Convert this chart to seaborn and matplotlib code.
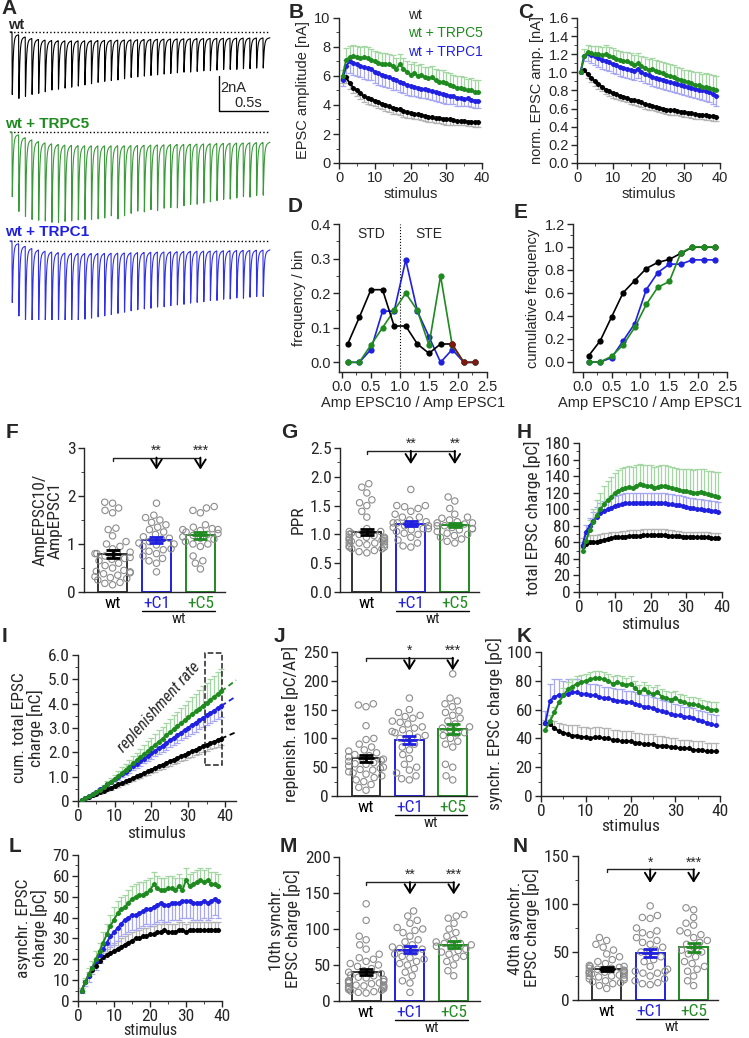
import numpy as np
import pandas as pd
import matplotlib
matplotlib.use('Agg')
import matplotlib.pyplot as plt
import seaborn as sns
from matplotlib import font_manager as fm
from matplotlib.ticker import AutoMinorLocator
from matplotlib.patches import Rectangle
import matplotlib.transforms as mtransforms

# ---------------- data ----------------
stim = np.arange(1, 40)

# B: EPSC amplitude [nA]
b_wt = [5.8,5.9,5.5,5.2,5.0,4.8,4.6,4.5,4.4,4.3, 4.2,4.1,4.0,3.9,3.8,3.75,3.7,3.6,3.5,3.45,
        3.4,3.35,3.3,3.25,3.2,3.15,3.1,3.1,3.05,3.0, 3.0,2.95,2.9,2.9,2.9,2.85,2.85,2.8,2.8]
b_wt_err = [0.3,0.35,0.4,0.4,0.4,0.4,0.4,0.4,0.4,0.4, 0.4,0.4,0.4,0.4,0.4,0.4,0.4,0.4,0.4,0.35,
            0.35,0.35,0.35,0.35,0.35,0.35,0.35,0.35,0.35,0.35, 0.35,0.3,0.3,0.3,0.3,0.3,0.3,0.3,0.3]
b_c5 = [6.0,7.1,7.3,7.4,7.3,7.25,7.3,7.25,7.1,7.0, 6.9,6.85,6.85,6.8,6.7,6.5,6.8,6.5,6.3,6.1,
        6.2,6.0,6.1,5.9,5.85,5.9,5.7,5.6,5.6,5.5, 5.4,5.3,5.2,5.2,5.1,5.0,5.05,4.9,4.9]
b_c5_err = [0.4,0.8,0.8,0.75,0.75,0.75,0.75,0.75,0.75,0.75, 0.75,0.75,0.75,0.75,0.75,0.75,0.75,0.75,0.75,0.75,
            0.75,0.75,0.75,0.75,0.75,0.8,0.8,0.8,0.8,0.8, 0.8,0.8,0.8,0.8,0.8,0.8,0.8,0.8,0.8]
b_c1 = [5.7,6.7,7.0,6.9,6.8,6.7,6.6,6.55,6.5,6.3, 6.2,6.1,6.0,5.9,5.8,5.7,5.6,5.5,5.4,5.3,
        5.25,5.2,5.1,5.1,5.0,4.95,4.9,4.8,4.75,4.7, 4.6,4.6,4.5,4.5,4.4,4.45,4.35,4.3,4.3]
b_c1_err = [0.4,0.7,0.8,0.8,0.8,0.8,0.8,0.8,0.8,0.8, 0.8,0.8,0.75,0.75,0.75,0.7,0.7,0.7,0.7,0.7,
            0.65,0.65,0.65,0.65,0.6,0.6,0.6,0.6,0.6,0.6, 0.55,0.55,0.55,0.55,0.5,0.5,0.5,0.5,0.5]

# C: normalized EPSC amplitude
c_wt = [1.0,1.03,0.98,0.94,0.90,0.87,0.84,0.81,0.79,0.77, 0.76,0.74,0.73,0.72,0.70,0.69,0.68,0.67,0.65,0.64,
        0.63,0.62,0.61,0.60,0.59,0.585,0.58,0.575,0.565,0.56, 0.555,0.55,0.54,0.535,0.53,0.525,0.52,0.515,0.51]
c_wt_err = [0.0,0.03,0.04,0.05,0.05,0.05,0.05,0.05,0.05,0.05, 0.05,0.05,0.05,0.05,0.05,0.05,0.05,0.05,0.05,0.05,
            0.05,0.05,0.05,0.05,0.05,0.05,0.05,0.05,0.05,0.05, 0.05,0.05,0.05,0.05,0.05,0.05,0.05,0.05,0.05]
c_c5 = [1.0,1.18,1.22,1.21,1.2,1.2,1.19,1.2,1.18,1.17, 1.15,1.14,1.13,1.12,1.1,1.08,1.1,1.07,1.05,1.03,
        1.04,1.02,1.0,0.99,0.97,0.96,0.95,0.93,0.92,0.9, 0.89,0.88,0.86,0.86,0.84,0.84,0.83,0.82,0.81]
c_c5_err = [0.0,0.08,0.08,0.08,0.09,0.09,0.09,0.1,0.1,0.1, 0.1,0.1,0.1,0.11,0.11,0.11,0.11,0.11,0.12,0.12,
            0.12,0.12,0.12,0.12,0.13,0.13,0.13,0.13,0.13,0.13, 0.14,0.14,0.14,0.14,0.14,0.15,0.15,0.15,0.15]
c_c1 = [1.0,1.18,1.21,1.19,1.18,1.16,1.14,1.13,1.11,1.09, 1.08,1.06,1.05,1.04,1.03,1.02,1.04,1.0,0.98,0.97,
        0.95,0.94,0.93,0.92,0.9,0.89,0.88,0.87,0.86,0.85, 0.84,0.83,0.82,0.81,0.8,0.79,0.78,0.76,0.74]
c_c1_err = [0.0,0.06,0.08,0.09,0.1,0.1,0.1,0.1,0.1,0.1, 0.1,0.1,0.1,0.1,0.1,0.1,0.1,0.1,0.1,0.1,
            0.1,0.1,0.1,0.1,0.1,0.1,0.1,0.1,0.1,0.1, 0.1,0.1,0.1,0.1,0.1,0.11,0.11,0.11,0.11]

# D/E: histogram of Amp EPSC10 / Amp EPSC1
bins = [0.1,0.3,0.5,0.7,0.9,1.1,1.3,1.5,1.7,1.9,2.1,2.3]
d_wt = [0.053,0.13,0.21,0.21,0.105,0.105,0.053,0.026,0.053,0.053,0.0,0.0]
d_c5 = [0.0,0.0,0.05,0.10,0.15,0.20,0.15,0.05,0.25,0.05,0.0,0.0]
d_c1 = [0.0,0.0,0.037,0.148,0.148,0.296,0.148,0.074,0.0,0.037,0.0,0.0]

# H: total EPSC charge [pC]
h_c5 = [50,62,75,85,93,100,106,111,115,119, 122,125,126,127,126,128,130,129,128,128,
        126,127,128,128,127,126,124,123,122,122, 121,120,120,121,120,118,117,116,115]
h_c5_err = [3,8,12,15,18,20,22,23,24,25, 25,25,25,25,25,25,25,25,25,25,
            25,25,25,25,25,25,26,26,27,27, 27,27,28,28,28,28,29,29,30]
h_c1 = [57,73,80,86,91,95,98,100,102,104, 105,106,107,107,107,108,108,108,108,108,
        108,107,107,107,106,106,105,105,104,103, 102,101,100,100,99,99,98,98,97]
h_c1_err = [3,8,10,11,12,12,12,12,12,12, 12,12,12,12,12,12,12,12,12,12,
            12,12,12,12,12,12,12,12,12,12, 12,12,12,12,12,12,12,12,12]
h_wt = [55,58,60,60,61,62,63,64,65,66, 66,67,67,68,68,68,68,69,69,69,
        69,69,69,69,68,68,68,68,67,67, 67,67,66,66,66,66,65,65,65]
h_wt_err = [10,10,9,9,8,8,8,7,7,7, 7,7,7,7,7,7,7,7,7,7,
            7,7,7,7,7,7,6,6,6,6, 6,6,6,6,6,6,6,6,6]

# K: synchronous EPSC charge [pC]
k_c5 = [46,52,58,65,70,74,76,78,79,80, 81,82,82,81,80,78,79,78,77,78,
        75,72,74,72,71,72,69,68,67,68, 66,65,64,64,63,62,61,60,60]
k_c5_err = [3,4,4,5,5,5,5,5,5,5, 5,5,5,5,5,5,5,5,5,5,
            5,5,5,5,5,5,5,5,5,5, 5,5,5,5,5,5,5,5,5]
k_c1 = [51,66,69,70,70,71,72,72,71,71, 70,70,69,68,68,67,66,66,65,65,
        64,63,62,62,61,60,59,58,57,56, 56,55,55,54,53,52,51,50,49]
k_c1_err = [8,12,12,11,10,10,9,9,9,9, 8,8,8,8,8,8,8,8,8,8,
            8,8,8,8,8,8,8,8,8,8, 7,7,7,7,7,7,7,7,7]
k_wt = [51,50,47,45,44,43,42,42,41,41, 40,41,41,40,40,39,39,38,38,38,
        37,37,36,36,36,35,35,35,34,34, 33,33,33,32,32,32,31,31,31]
k_wt_err = [2,3,5,6,6,6,7,7,7,7, 7,7,7,7,7,7,7,7,7,7,
            7,7,7,7,7,7,7,6,6,6, 6,6,6,6,6,6,6,6,6]

# L: asynchronous EPSC charge [pC]
l_c5 = [5,9,13,16,20,24,28,32,36,39, 42,44,45,47,49,50,51,51,52,53,
        56,54,53,53,54,54,53,55,53,58, 55,56,57,58,57,58,56,56,55]
l_c5_err = [1,2,3,3,4,4,5,5,5,6, 6,6,6,6,6,6,6,6,6,6,
            6,6,6,6,6,6,6,6,6,6, 6,6,6,6,6,6,6,6,6]
l_c1 = [5,9,12,16,19,22,25,28,31,33, 35,37,39,40,41,41,42,43,44,44,
        45,46,47,46,46,47,47,47,48,48, 48,47,47,47,48,47,48,49,48]
l_c1_err = [1,2,3,3,4,4,5,5,5,6, 6,6,7,7,7,7,7,7,7,8,
            8,8,8,8,8,8,8,8,8,8, 8,8,8,8,8,8,8,8,8]
l_wt = [5,9,12,15,17,19,21,22,23,24, 25,26,27,28,29,30,30,31,31,32,
        32,33,33,34,33,33,33,34,34,33, 34,34,34,34,34,34,34,34,34]
l_wt_err = [1,1,2,2,3,3,3,3,4,4, 4,4,4,4,4,4,4,4,4,4,
            4,4,4,4,4,4,4,4,4,4, 4,4,4,4,4,4,4,4,4]

# bar panels: single cells
f_wt = [1.87,1.85,1.75,1.7,1.65,1.33,1.3,1.17,1.05,1.0,0.95,0.9,0.83,0.8,0.8,0.78,0.75,0.72,0.7,
        0.68,0.65,0.6,0.55,0.5,0.45,0.43,0.42,0.4,0.38,0.35,0.32,0.3,0.28,0.25,0.2,0.18,0.15]
f_c1 = [1.85,1.6,1.55,1.5,1.45,1.4,1.35,1.3,1.25,1.2,1.15,1.12,1.1,1.05,1.02,1.0,0.98,0.95,0.9,
        0.88,0.85,0.8,0.75,0.7,0.65,0.6,0.42]
f_c5 = [1.78,1.75,1.7,1.65,1.4,1.35,1.3,1.28,1.25,1.22,1.2,1.18,1.15,1.12,1.1,1.05,1.0,0.95,1.0,
        0.75,0.65,0.6,0.48,1.3,1.32]

g_wt = [1.88,1.82,1.72,1.6,1.55,1.5,1.4,1.3,0.75,1.1,1.05,1.02,1.0,1.0,0.98,0.95,0.95,0.92,0.9,
        0.9,0.88,0.85,0.85,0.82,0.8,0.78,0.75,0.72,0.7,0.68,0.95,1.05,0.93,0.87,0.9,0.85,0.82,0.78]
g_c1 = [1.78,1.5,1.5,1.48,1.45,1.4,1.35,1.3,1.25,1.2,1.18,1.15,1.12,1.1,1.08,1.05,1.02,1.0,0.95,
        0.9,0.85,0.78,1.22,1.2,1.15,1.1,1.3,0.8]
g_c5 = [1.65,1.58,1.45,1.35,1.3,1.28,1.25,1.22,1.2,1.18,1.15,1.12,1.1,1.1,1.08,1.05,1.02,1.0,0.98,
        0.95,0.92,0.88,0.85,1.15,1.2]

j_wt = [160,158,155,122,100,98,90,85,80,78,75,72,70,68,66,64,62,60,58,56,55,52,50,48,46,45,42,40,
        38,35,32,28,25,20,15,10]
j_c1 = [170,150,145,140,138,135,130,125,120,118,115,112,110,108,105,102,100,95,90,85,80,72,65,55,
        50,45,30,28,40,35,128]
j_c5 = [212,170,165,160,155,148,145,140,135,130,125,120,118,115,110,108,105,100,95,90,85,55,50,35,28]

m_wt = [135,112,90,85,78,72,65,55,52,50,48,45,42,40,38,36,35,33,32,30,28,27,26,25,24,22,21,20,19,
        18,17,16,15,14,13,12,11,20,30,28,25,22,60,58]
m_c1 = [125,118,112,108,102,100,98,95,90,85,82,78,75,73,72,70,68,65,62,60,58,55,52,50,45,40,35,
        28,25,12]
m_c5 = [120,118,115,108,100,95,90,85,82,80,80,78,76,75,72,70,68,65,62,60,55,50,42,35]

n_wt = [65,62,58,55,52,48,45,42,40,38,36,35,34,33,32,31,30,30,29,28,28,27,26,25,24,23,22,21,20,
        19,18,17,15,12,35,33,30,28,26,25]
n_c1 = [98,88,86,85,75,72,70,68,65,62,60,58,55,52,50,48,45,42,40,35,32,30,28,25,22,20,18,17,16,
        30,28]
n_c5 = [96,94,86,80,78,72,70,68,65,62,60,58,55,52,50,48,45,40,38,35,32,30,25,20,15]

groups = ['wt', '+C1', '+C5']

# ---------------- style ----------------
sns.set_style('ticks')
plt.rcParams['font.family'] = ['Liberation Sans', 'DejaVu Sans']
plt.rcParams['axes.linewidth'] = 1.0
plt.rcParams['xtick.major.size'] = 4
plt.rcParams['ytick.major.size'] = 4
plt.rcParams['xtick.minor.size'] = 2
plt.rcParams['ytick.minor.size'] = 2
plt.rcParams['xtick.major.width'] = 1
plt.rcParams['ytick.major.width'] = 1

# a condensed face for the lower panels, if one is installed
installed = {f.name for f in fm.fontManager.ttflist}
NARROW = 'Liberation Sans'
for cand in ['Liberation Sans Narrow', 'Arial Narrow', 'Roboto Condensed', 'Open Sans Condensed']:
    if cand in installed:
        NARROW = cand
        break
NSIZE = 12.5 if NARROW != 'Liberation Sans' else 10.5

BLACK = 'black'
GREEN = '#1f8a1f'
BLUE = '#2020e0'
LGREEN = '#a3d6a3'
LBLUE = '#a8a8f2'
LGRAY = '#b4b4b4'
PAL = {'wt': '#333333', '+C1': BLUE, '+C5': GREEN}

W, H = 749, 1038
fig = plt.figure(figsize=(W / 100, H / 100), dpi=100)


def add_ax(l, t, r, b):
    return fig.add_axes([l / W, 1 - b / H, (r - l) / W, (b - t) / H])


def ftext(x, y, s, **kw):
    fig.text(x / W, 1 - y / H, s, **kw)


def style(ax, xticks, yticks, ylabels=None, family='Liberation Sans', size=10, minor_x=True):
    sns.despine(ax=ax)
    if xticks is not None:
        ax.set_xticks(xticks)
        ax.set_xticklabels([str(v) for v in xticks], fontfamily=family, fontsize=size)
        if minor_x:
            ax.xaxis.set_minor_locator(AutoMinorLocator(2))
    ax.set_yticks(yticks)
    ax.set_yticklabels(ylabels if ylabels else [str(v) for v in yticks], fontfamily=family, fontsize=size)
    ax.yaxis.set_minor_locator(AutoMinorLocator(2))
    ax.tick_params(which='both', direction='out', pad=2)


def series(ax, y, err, c, lc, down=False):
    y = np.asarray(y, dtype=float)
    e = np.asarray(err, dtype=float)
    z = np.zeros_like(e)
    ax.errorbar(stim, y, yerr=[e, z] if down else [z, e], fmt='none', ecolor=lc,
                elinewidth=0.9, capsize=2.2, capthick=0.9, zorder=1)
    sns.lineplot(x=stim, y=y, color=c, marker='o', markersize=3.6, markeredgewidth=0,
                 linewidth=1.4, ax=ax, zorder=3)


# ---------------- A: example traces ----------------
axA = add_ax(8, 20, 272, 320)
axA.set_xlim(-0.02, 2.674)
axA.set_ylim(-300 / 17.5, 0)
axA.axis('off')
t = np.linspace(0, 2.653, 6000)
t_stim = 0.021 + 0.0674 * np.arange(len(b_wt))
kx = np.linspace(0, 0.05, 2000)
knorm = (np.exp(-kx / 0.009) - np.exp(-kx / 0.001)).max()


def trace(amps, scale=0.6):
    y = np.zeros_like(t)
    for ts, a in zip(t_stim, amps):
        dt = t - ts
        m = dt > 0
        a = a * scale
        y[m] += a * (np.exp(-dt[m] / 0.009) - np.exp(-dt[m] / 0.001)) / knorm
        y[m] += 0.06 * a * np.exp(-dt[m] / 0.25) * (1 - np.exp(-dt[m] / 0.004))
    return -y


for amps, base, c in [(b_wt, -0.686, 'black'), (b_c5, -6.4, '#3a9a3a'), (b_c1, -12.63, '#3030e6')]:
    axA.plot([0, 2.653], [base, base], color='black', lw=1, ls=(0, (1, 1.6)))
    axA.plot(t, base + trace(amps), color=c, lw=0.8)
axA.plot([2.133, 2.133, 2.633], [-3.2, -5.2, -5.2], color='black', lw=1)
axA.text(2.15, -3.9, '2nA', fontsize=10.5, va='center', ha='left')
axA.text(2.43, -4.75, '0.5s', fontsize=10.5, va='center', ha='center')
ftext(8, 25, 'wt', fontsize=10.5, fontweight='bold', va='center')
ftext(5, 124, 'wt + TRPC5', fontsize=11, fontweight='bold', va='center', color=GREEN)
ftext(5, 232, 'wt + TRPC1', fontsize=11, fontweight='bold', va='center', color=BLUE)

# ---------------- B ----------------
axB = add_ax(339, 18, 482, 163)
series(axB, b_wt, b_wt_err, BLACK, LGRAY, down=True)
series(axB, b_c1, b_c1_err, BLUE, LBLUE, down=True)
series(axB, b_c5, b_c5_err, GREEN, LGREEN)
axB.set_xlim(0, 40)
axB.set_ylim(0, 10)
style(axB, [0, 10, 20, 30, 40], [0, 2, 4, 6, 8, 10], size=10.5)
axB.set_xlabel('stimulus', fontsize=10.5, labelpad=1)
axB.set_ylabel('EPSC amplitude [nA]', fontsize=10.5, labelpad=3)
ftext(408, 15, 'wt', fontsize=10, va='center')
ftext(408, 33, 'wt + TRPC5', fontsize=10, va='center', color=GREEN)
ftext(408, 52, 'wt + TRPC1', fontsize=10, va='center', color=BLUE)

# ---------------- C ----------------
axC = add_ax(577, 18, 720, 163)
series(axC, c_wt, c_wt_err, BLACK, LGRAY, down=True)
series(axC, c_c1, c_c1_err, BLUE, LBLUE, down=True)
series(axC, c_c5, c_c5_err, GREEN, LGREEN)
axC.set_xlim(0, 40)
axC.set_ylim(0, 1.6)
style(axC, [0, 10, 20, 30, 40], [0, 0.2, 0.4, 0.6, 0.8, 1.0, 1.2, 1.4, 1.6],
      ['0.0', '0.2', '0.4', '0.6', '0.8', '1.0', '1.2', '1.4', '1.6'], size=10.5)
axC.set_xlabel('stimulus', fontsize=10.5, labelpad=1)
axC.set_ylabel('norm. EPSC amp. [nA]', fontsize=10.5, labelpad=3)

# ---------------- D ----------------
axD = add_ax(339, 224, 487, 372)
axD.axvline(1.0, color='black', lw=0.8, ls=':')
for y, c in [(d_c1, BLUE), (d_c5, GREEN)]:
    sns.lineplot(x=bins, y=y, color=c, marker='o', markersize=4.5, markeredgewidth=0, lw=1.2, ax=axD)
sns.lineplot(x=bins[:10], y=d_wt[:10], color=BLACK, marker='o', markersize=4.5, markeredgewidth=0, lw=1.2, ax=axD)
sns.lineplot(x=bins[9:], y=d_wt[9:], color='#7a1a12', marker='o', markersize=4.5, markeredgewidth=0, lw=1.2, ax=axD)
axD.set_xlim(-0.05, 2.5)
axD.set_ylim(-0.028, 0.4)
style(axD, None, [0.0, 0.1, 0.2, 0.3, 0.4], ['0.0', '0.1', '0.2', '0.3', '0.4'], size=10.5)
axD.set_xticks([0, 0.5, 1.0, 1.5, 2.0, 2.5])
axD.set_xticklabels(['0.0', '0.5', '1.0', '1.5', '2.0', '2.5'], fontsize=10.5)
axD.xaxis.set_minor_locator(AutoMinorLocator(2))
axD.text(0.5, 0.37, 'STD', ha='center', va='center', fontsize=10)
axD.text(1.5, 0.37, 'STE', ha='center', va='center', fontsize=10)
axD.set_xlabel('Amp EPSC10 / Amp EPSC1', fontsize=10.5, labelpad=1)
axD.set_ylabel('frequency / bin', fontsize=10.5, labelpad=3)

# ---------------- E ----------------
axE = add_ax(573, 224, 727, 372)
for y, c in [(d_wt, BLACK), (d_c1, BLUE), (d_c5, GREEN)]:
    sns.lineplot(x=bins, y=np.cumsum(y), color=c, marker='o', markersize=4.5, markeredgewidth=0, lw=1.2, ax=axE)
axE.set_xlim(-0.17, 2.5)
axE.set_ylim(-0.087, 1.2)
style(axE, None, [0.0, 0.2, 0.4, 0.6, 0.8, 1.0, 1.2], ['0.0', '0.2', '0.4', '0.6', '0.8', '1.0', '1.2'], size=10.5)
axE.set_xticks([0, 0.5, 1.0, 1.5, 2.0, 2.5])
axE.set_xticklabels(['0.0', '0.5', '1.0', '1.5', '2.0', '2.5'], fontsize=10.5)
axE.xaxis.set_minor_locator(AutoMinorLocator(2))
axE.set_xlabel('Amp EPSC10 / Amp EPSC1', fontsize=10.5, labelpad=1)
axE.set_ylabel('cumulative frequency', fontsize=10.5, labelpad=3)


# ---------------- bar panels ----------------
def bar_panel(ax, wt, c1, c5, xlim, ylim, yticks, ylabels, ylabel, br, stars):
    df = pd.DataFrame({'grp': ['wt'] * len(wt) + ['+C1'] * len(c1) + ['+C5'] * len(c5),
                       'val': list(wt) + list(c1) + list(c5)})
    sns.barplot(data=df, x='grp', y='val', hue='grp', order=groups, hue_order=groups, palette=PAL,
                fill=False, errorbar=None, width=0.66, linewidth=1.4, legend=False, ax=ax)
    sns.swarmplot(data=df, x='grp', y='val', order=groups, color='#8a8a8a', size=4.6, ax=ax)
    for coll in ax.collections:
        coll.set_facecolor('none')
        coll.set_edgecolor('#8c8c8c')
        coll.set_linewidth(0.8)
    for i, g in enumerate(groups):
        v = np.asarray(df.loc[df.grp == g, 'val'], dtype=float)
        m = v.mean()
        s = v.std(ddof=1) / np.sqrt(len(v))
        col = 'black' if g == 'wt' else PAL[g]
        ax.errorbar(i, m, yerr=s, fmt='none', ecolor=col, elinewidth=2, capsize=5, capthick=2, zorder=6)
        ax.plot([i - 0.16, i + 0.16], [m, m], color=col, lw=2, zorder=6)
    ax.set_xlim(*xlim)
    ax.set_ylim(*ylim)
    sns.despine(ax=ax)
    ax.set_yticks(yticks)
    ax.set_yticklabels(ylabels, fontfamily=NARROW, fontsize=NSIZE)
    ax.yaxis.set_minor_locator(AutoMinorLocator(2))
    ax.tick_params(axis='y', which='both', direction='out', pad=2)
    ax.set_xticks([0, 1, 2])
    ax.set_xticklabels(groups, fontfamily=NARROW, fontsize=NSIZE)
    ax.tick_params(axis='x', length=0, pad=3)
    for lab, g in zip(ax.get_xticklabels(), groups):
        lab.set_color('black' if g == 'wt' else PAL[g])
    ax.set_xlabel('')
    ax.set_ylabel(ylabel, fontfamily=NARROW, fontsize=NSIZE, labelpad=3, linespacing=1.0)
    tr = mtransforms.blended_transform_factory(ax.transData, ax.transAxes)
    ax.plot([0.67, 2.33], [-0.135, -0.135], color='black', lw=1, transform=tr, clip_on=False)
    ax.text(1.5, -0.14, 'wt', transform=tr, ha='center', va='top', fontfamily=NARROW, fontsize=NSIZE - 1.5)
    y0, y1, dtick = br
    ax.plot([0, 0, 2], [y0 - dtick, y0, y0], color='#222222', lw=1, clip_on=False)
    for x, s in zip([1, 2], stars):
        ax.annotate('', xy=(x, y1), xytext=(x, y0), annotation_clip=False,
                    arrowprops=dict(arrowstyle='->,head_length=0.6,head_width=0.38', color='black',
                                    lw=1.4, shrinkA=0, shrinkB=0))
        ax.text(x, y0, s, ha='center', va='bottom', fontsize=10, clip_on=False)


axF = add_ax(84, 448, 225, 592)
bar_panel(axF, f_wt, f_c1, f_c5, (-0.65, 2.56), (0, 3), [0, 1, 2, 3], ['0', '1', '2', '3'],
          'AmpEPSC10/\nAmpEPSC1', (2.8, 2.55, 0.07), ['**', '***'])
axG = add_ax(340, 448, 479, 592)
bar_panel(axG, g_wt, g_c1, g_c5, (-0.61, 2.55), (0, 2.5), [0, 0.5, 1.0, 1.5, 2.0, 2.5],
          ['0.0', '0.5', '1.0', '1.5', '2.0', '2.5'], 'PPR', (2.45, 2.22, 0.05), ['**', '**'])
axJ = add_ax(337, 652, 477, 796)
bar_panel(axJ, j_wt, j_c1, j_c5, (-0.67, 2.56), (0, 250), [0, 50, 100, 150, 200, 250],
          ['0', '50', '100', '150', '200', '250'], 'replenish. rate [pC/AP]', (240, 218, 5), ['*', '***'])
axM = add_ax(339, 857, 480, 1001)
bar_panel(axM, m_wt, m_c1, m_c5, (-0.62, 2.6), (0, 200), [0, 50, 100, 150, 200],
          ['0', '50', '100', '150', '200'], '10th synchr.\nEPSC charge [pC]', (165, 148, 4), ['**', '***'])
axN = add_ax(578, 856, 718, 1000)
bar_panel(axN, n_wt, n_c1, n_c5, (-0.66, 2.56), (0, 150), [0, 50, 100, 150],
          ['0', '50', '100', '150'], '40th asynchr.\nEPSC charge [pC]', (136, 122, 3), ['*', '***'])

# ---------------- H ----------------
axH = add_ax(579, 443, 722, 592)
series(axH, h_wt, h_wt_err, BLACK, LGRAY)
series(axH, h_c1, h_c1_err, BLUE, LBLUE)
series(axH, h_c5, h_c5_err, GREEN, LGREEN)
axH.set_xlim(0, 40)
axH.set_ylim(0, 180)
style(axH, [0, 10, 20, 30, 40], list(range(0, 181, 20)), family=NARROW, size=NSIZE)
axH.set_xlabel('stimulus', fontfamily=NARROW, fontsize=NSIZE, labelpad=1)
axH.set_ylabel('total EPSC charge [pC]', fontfamily=NARROW, fontsize=NSIZE, labelpad=3)

# ---------------- I ----------------
axI = add_ax(78, 655, 236, 801)
for h, he, c, lc, down in [(h_wt, h_wt_err, BLACK, LGRAY, True), (h_c1, h_c1_err, BLUE, LBLUE, True),
                           (h_c5, h_c5_err, GREEN, LGREEN, False)]:
    cum = np.cumsum(h) / 1000.0
    cum_err = np.cumsum(he) / 1000.0
    series(axI, cum, cum_err, c, lc, down=down)
    axI.plot([stim[-1], 43], [cum[-1], cum[-1] + h[-1] / 1000.0 * (43 - stim[-1])],
             color=c, lw=1.3, ls=(0, (3, 2)), clip_on=False)
axI.add_patch(Rectangle((34.6, 1.48), 4.6, 4.6, fill=False, ls='--', lw=1.1, color='#222222', clip_on=False))
axI.text(22, 3.85, 'replenishment rate', rotation=48, style='italic', fontsize=11.5,
         ha='center', va='center', fontfamily=NARROW)
axI.set_xlim(0, 43)
axI.set_ylim(0, 6)
style(axI, [0, 10, 20, 30, 40], [0, 1, 2, 3, 4, 5, 6], ['0', '1.0', '2.0', '3.0', '4.0', '5.0', '6.0'],
      family=NARROW, size=NSIZE)
axI.set_xlabel('stimulus', fontfamily=NARROW, fontsize=NSIZE, labelpad=1)
axI.set_ylabel('cum. total EPSC\ncharge [nC]', fontfamily=NARROW, fontsize=NSIZE, labelpad=3, linespacing=1.0)

# ---------------- K ----------------
axK = add_ax(541, 652, 720, 796)
series(axK, k_wt, k_wt_err, BLACK, LGRAY)
series(axK, k_c1, k_c1_err, BLUE, LBLUE)
series(axK, k_c5, k_c5_err, GREEN, LGREEN)
axK.set_xlim(0, 40)
axK.set_ylim(0, 100)
style(axK, [0, 10, 20, 30, 40], [0, 20, 40, 60, 80, 100], family=NARROW, size=NSIZE)
axK.set_xlabel('stimulus', fontfamily=NARROW, fontsize=NSIZE, labelpad=0)
axK.set_ylabel('synchr. EPSC charge [pC]', fontfamily=NARROW, fontsize=NSIZE, labelpad=3)

# ---------------- L ----------------
axL = add_ax(78, 855, 222, 1001)
series(axL, l_wt, l_wt_err, BLACK, LGRAY)
series(axL, l_c1, l_c1_err, BLUE, LBLUE, down=True)
series(axL, l_c5, l_c5_err, GREEN, LGREEN)
axL.set_xlim(0, 40)
axL.set_ylim(0, 70)
style(axL, [0, 10, 20, 30, 40], list(range(0, 71, 10)), family=NARROW, size=NSIZE)
axL.set_xlabel('stimulus', fontfamily=NARROW, fontsize=NSIZE - 1, labelpad=-1)
axL.set_ylabel('asynchr. EPSC\ncharge [pC]', fontfamily=NARROW, fontsize=NSIZE, labelpad=3, linespacing=1.0)

# ---------------- panel letters ----------------
for s, x, y in [('A', 1, 8), ('B', 289, 13), ('C', 518, 13), ('D', 288, 207), ('E', 514, 213),
                ('F', 6, 432), ('G', 281, 432), ('H', 517, 432), ('I', 2, 636), ('J', 274, 636),
                ('K', 517, 636), ('L', 9, 847), ('M', 280, 847), ('N', 513, 847)]:
    ftext(x, y, s, fontsize=15, fontweight='bold', va='center', ha='left')

fig.savefig('out.png', dpi=100)
